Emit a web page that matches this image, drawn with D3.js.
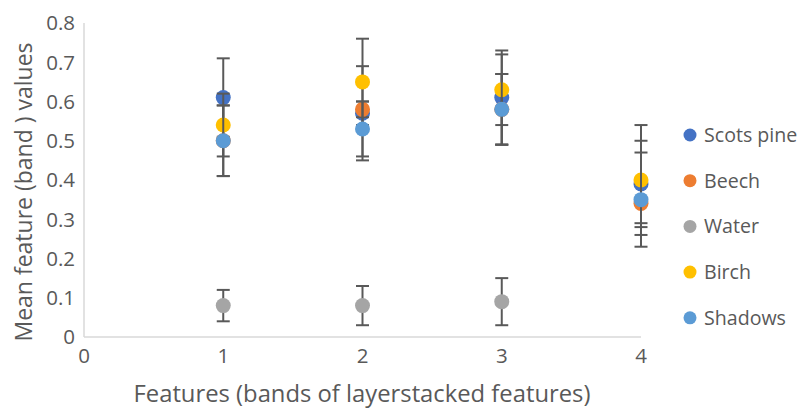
<!DOCTYPE html>
<html><head><meta charset="utf-8">
<script src="https://cdn.jsdelivr.net/npm/d3@7"></script>
<style>body{margin:0;background:#fff}svg{display:block}text{font-family:"Open Sans",sans-serif;fill:#595959}</style>
</head><body><svg id="c" width="804" height="408"></svg>
<script>
const xValues = [1, 2, 3, 4];
const seriesNames = ["Scots pine", "Beech", "Water", "Birch", "Shadows"];
const seriesColors = ["#4472C4", "#ED7D31", "#A5A5A5", "#FFC000", "#5B9BD5"];
const scotsPine = [0.61, 0.57, 0.61, 0.39];
const scotsPineErr = [0.10, 0.12, 0.12, 0.11];
const beech = [0.50, 0.58, 0.58, 0.34];
const beechErr = [0.09, 0.02, 0.09, 0.05];
const water = [0.08, 0.08, 0.09, null];
const waterErr = [0.04, 0.05, 0.06, null];
const birch = [0.54, 0.65, 0.63, 0.40];
const birchErr = [0.08, 0.11, 0.09, 0.14];
const shadows = [0.50, 0.53, 0.58, 0.35];
const shadowsErr = [0.09, 0.07, 0.09, 0.12];
const yTicks = [0, 0.1, 0.2, 0.3, 0.4, 0.5, 0.6, 0.7, 0.8];
const xTicks = [0, 1, 2, 3, 4];

const values = [scotsPine, beech, water, birch, shadows];
const errs = [scotsPineErr, beechErr, waterErr, birchErr, shadowsErr];

const svg = d3.select("#c");
const x = d3.scaleLinear().domain([0, 4]).range([84, 641]);
const y = d3.scaleLinear().domain([0, 0.8]).range([337, 23]);

svg.append("line").attr("x1", x(0)).attr("x2", x(0)).attr("y1", y(0.8)).attr("y2", y(0))
  .attr("stroke", "#D9D9D9").attr("stroke-width", 1.5);
svg.append("line").attr("x1", x(0)).attr("x2", x(4)).attr("y1", y(0)).attr("y2", y(0))
  .attr("stroke", "#D9D9D9").attr("stroke-width", 1.5);

svg.selectAll(".yt").data(yTicks).enter().append("text")
  .attr("x", 75).attr("y", d => y(d)).attr("dy", "0.36em")
  .attr("text-anchor", "end").attr("font-size", 20.5)
  .text(d => d === 0 ? "0" : d3.format(".1f")(d));
svg.selectAll(".xt").data(xTicks).enter().append("text")
  .attr("x", d => x(d)).attr("y", 363)
  .attr("text-anchor", "middle").attr("font-size", 20.5)
  .text(d => d);

svg.append("text").attr("x", 362).attr("y", 402).attr("text-anchor", "middle")
  .attr("font-size", 23.8).text("Features (bands of layerstacked features)");
svg.append("text").attr("transform", "translate(32,192) rotate(-90)")
  .attr("text-anchor", "middle").attr("font-size", 23).text("Mean feature (band ) values");

const capW = 6.5;
values.forEach((vals, si) => {
  const g = svg.append("g");
  xValues.forEach((xv, i) => {
    const v = vals[i], e = errs[si][i];
    if (v == null) return;
    const lo = y(v - e), hi = y(v + e), cx = x(xv);
    g.append("line").attr("x1", cx).attr("x2", cx).attr("y1", lo).attr("y2", hi)
      .attr("stroke", "#595959").attr("stroke-width", 2);
    [lo, hi].forEach(yy => g.append("line").attr("x1", cx - capW).attr("x2", cx + capW)
      .attr("y1", yy).attr("y2", yy).attr("stroke", "#595959").attr("stroke-width", 2));
  });
  xValues.forEach((xv, i) => {
    const v = vals[i];
    if (v == null) return;
    g.append("circle").attr("cx", x(xv)).attr("cy", y(v)).attr("r", 7.5)
      .attr("fill", seriesColors[si]);
  });
});

const leg = svg.append("g");
seriesNames.forEach((n, i) => {
  const yy = 135 + i * 45.7;
  leg.append("circle").attr("cx", 690).attr("cy", yy).attr("r", 6.5).attr("fill", seriesColors[i]);
  leg.append("text").attr("x", 704).attr("y", yy).attr("dy", "0.36em").attr("font-size", 19.6).text(n);
});
</script></body></html>
